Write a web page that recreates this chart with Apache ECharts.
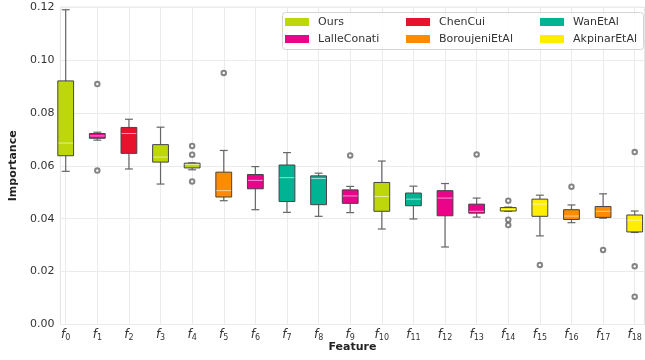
<!DOCTYPE html>
<html><head><meta charset="utf-8">
<script src="https://cdn.jsdelivr.net/npm/echarts@6/dist/echarts.min.js"></script>
<style>html,body{margin:0;padding:0;background:#fff}#c{width:645px;height:360px}</style>
</head><body><div id="c"></div>
<script>
const categories = ['f0','f1','f2','f3','f4','f5','f6','f7','f8','f9','f10','f11','f12','f13','f14','f15','f16','f17','f18'];
const methodOf = ['Ours','LalleConati','ChenCui','Ours','Ours','BoroujeniEtAl','LalleConati','WanEtAl','WanEtAl','LalleConati','Ours','WanEtAl','LalleConati','LalleConati','AkpinarEtAl','AkpinarEtAl','BoroujeniEtAl','BoroujeniEtAl','AkpinarEtAl'];
const whiskerLow  = [0.0579,0.0697,0.0588,0.0531,0.0585,0.0468,0.0434,0.0424,0.0409,0.0423,0.0361,0.0399,0.0293,0.0406,0.0428,0.0335,0.0385,0.0402,0.0348];
const q1          = [0.0638,0.0704,0.0647,0.0614,0.0592,0.0482,0.0513,0.0465,0.0453,0.0458,0.0428,0.0449,0.0411,0.0421,0.0429,0.0409,0.0397,0.0405,0.0350];
const median      = [0.0686,0.0713,0.0722,0.0633,0.0605,0.0506,0.0545,0.0555,0.0552,0.0486,0.0484,0.0474,0.0478,0.0428,0.0435,0.0455,0.0410,0.0428,0.0394];
const q3          = [0.0921,0.0722,0.0745,0.0680,0.0610,0.0576,0.0567,0.0603,0.0562,0.0509,0.0537,0.0497,0.0506,0.0455,0.0442,0.0474,0.0434,0.0446,0.0414];
const whiskerHigh = [0.1190,0.0727,0.0776,0.0746,0.0611,0.0658,0.0597,0.0650,0.0572,0.0522,0.0618,0.0523,0.0533,0.0478,0.0444,0.0489,0.0452,0.0494,0.0429];
const outliers = [[1,0.0909],[1,0.0582],[4,0.0675],[4,0.0642],[4,0.0541],[5,0.0951],[9,0.0639],[13,0.0643],[14,0.0468],[14,0.0396],[14,0.0376],[15,0.0225],[16,0.0521],[17,0.0282],[18,0.0652],[18,0.0220],[18,0.0105]];
const methods = ['Ours','LalleConati','ChenCui','BoroujeniEtAl','WanEtAl','AkpinarEtAl'];
const methodColors = ['#bdd70a','#e9048a','#e8122c','#ff8b00','#00b392','#ffee00'];
const yTicks = [0,0.02,0.04,0.06,0.08,0.10,0.12];

const FONT = 'DejaVu Sans';
const chart = echarts.init(document.getElementById('c'), null, {renderer:'canvas'});

function renderBox(params, api) {
  const x = api.value(0);
  const band = api.size([1, 0])[0];
  const bw = band * 0.5, cw = band * 0.25;
  const pLo = api.coord([x, api.value(1)]);
  const pQ1 = api.coord([x, api.value(2)]);
  const pMd = api.coord([x, api.value(3)]);
  const pQ3 = api.coord([x, api.value(4)]);
  const pHi = api.coord([x, api.value(5)]);
  const cx = pMd[0];
  const wStyle = {stroke:'#666', lineWidth:1.2};
  return {type:'group', children:[
    {type:'line', shape:{x1:cx,y1:pLo[1],x2:cx,y2:pQ1[1]}, style:wStyle},
    {type:'line', shape:{x1:cx,y1:pQ3[1],x2:cx,y2:pHi[1]}, style:wStyle},
    {type:'line', shape:{x1:cx-cw/2,y1:pLo[1],x2:cx+cw/2,y2:pLo[1]}, style:wStyle},
    {type:'line', shape:{x1:cx-cw/2,y1:pHi[1],x2:cx+cw/2,y2:pHi[1]}, style:wStyle},
    {type:'rect', shape:{x:cx-bw/2,y:pQ3[1],width:bw,height:pQ1[1]-pQ3[1]}, style:{fill:api.visual('color'), stroke:'#444', lineWidth:1}},
    {type:'line', shape:{x1:cx-bw/2+0.5,y1:pMd[1],x2:cx+bw/2-0.5,y2:pMd[1]}, style:{stroke:'rgba(255,255,255,0.6)', lineWidth:1}}
  ]};
}

const series = methods.map((m, k) => ({
  name: m, type: 'custom', xAxisIndex: 0, yAxisIndex: 0, z: 3,
  itemStyle: {color: methodColors[k]},
  encode: {x: 0, y: [1,2,3,4,5]},
  renderItem: renderBox,
  data: categories.map((c, i) => methodOf[i] === m ? [i, whiskerLow[i], q1[i], median[i], q3[i], whiskerHigh[i]] : null).filter(Boolean)
}));
series.push({
  name: 'outliers', type: 'scatter', xAxisIndex: 0, yAxisIndex: 0, z: 4,
  symbol: 'emptyCircle', symbolSize: 4.5,
  itemStyle: {color: '#666', borderWidth: 0.9},
  data: outliers
});

const legendCommon = {
  orient: 'vertical', top: 16, padding: 0, itemWidth: 24, itemHeight: 8, itemGap: 5,
  icon: 'rect', selectedMode: false, z: 10,
  itemStyle: {borderWidth: 0},
  textStyle: {fontFamily: FONT, fontSize: 11, color: '#333', lineHeight: 12, padding: [0,0,0,4]}
};

chart.setOption({
  animation: false,
  backgroundColor: '#fff',
  textStyle: {fontFamily: FONT},
  grid: [
    {left: 65.7, right: 10.3, top: 7.1, bottom: 35.5},
    {left: 50.7, right: 0.5, top: 7.1, bottom: 35.5, show: true, borderColor: '#e4e4e4', borderWidth: 1, backgroundColor: 'transparent'}
  ],
  xAxis: [
    {type: 'category', gridIndex: 0, data: categories, boundaryGap: false,
     axisLine: {show: false}, axisTick: {show: false},
     splitLine: {show: true, lineStyle: {color: '#ebebeb', width: 1}},
     axisLabel: {interval: 0, margin: 3,
       formatter: v => '{i|f}{s|' + v.slice(1) + '}',
       rich: {
         i: {fontFamily: FONT, fontStyle: 'italic', fontSize: 12, color: '#333', lineHeight: 14},
         s: {fontFamily: FONT, fontSize: 8, color: '#333', lineHeight: 14, verticalAlign: 'bottom', padding: [6,0,0,0]}
       }}},
    {type: 'value', gridIndex: 1, min: 0, max: 1,
     axisLine: {show: false}, axisTick: {show: false}, axisLabel: {show: false}, splitLine: {show: false},
     name: 'Feature', nameLocation: 'middle', nameGap: 17,
     nameTextStyle: {fontFamily: FONT, fontWeight: 'bold', fontSize: 11, color: '#222'}}
  ],
  yAxis: [
    {type: 'value', gridIndex: 0, min: 0, max: 0.12, show: false},
    {type: 'value', gridIndex: 1, min: 0, max: 0.12, interval: 0.02,
     axisLine: {show: false}, axisTick: {show: false},
     axisLabel: {fontFamily: FONT, fontSize: 11, color: '#333', margin: 6,
       customValues: yTicks, formatter: v => v.toFixed(2)},
     splitLine: {show: true, lineStyle: {color: '#ebebeb', width: 1}},
     name: 'Importance', nameLocation: 'middle', nameGap: 33,
     nameTextStyle: {fontFamily: FONT, fontWeight: 'bold', fontSize: 11, color: '#222'}}
  ],
  legend: [
    Object.assign({}, legendCommon, {left: 285, data: ['Ours','LalleConati']}),
    Object.assign({}, legendCommon, {left: 406, data: ['ChenCui','BoroujeniEtAl']}),
    Object.assign({}, legendCommon, {left: 540, data: ['WanEtAl','AkpinarEtAl']})
  ],
  graphic: [
    {type: 'rect', z: 8, silent: true,
     shape: {x: 282.5, y: 12.5, width: 361, height: 37, r: 3},
     style: {fill: 'rgba(255,255,255,0.85)', stroke: '#d4d4d4', lineWidth: 1}}
  ],
  series: series
});
</script></body></html>
